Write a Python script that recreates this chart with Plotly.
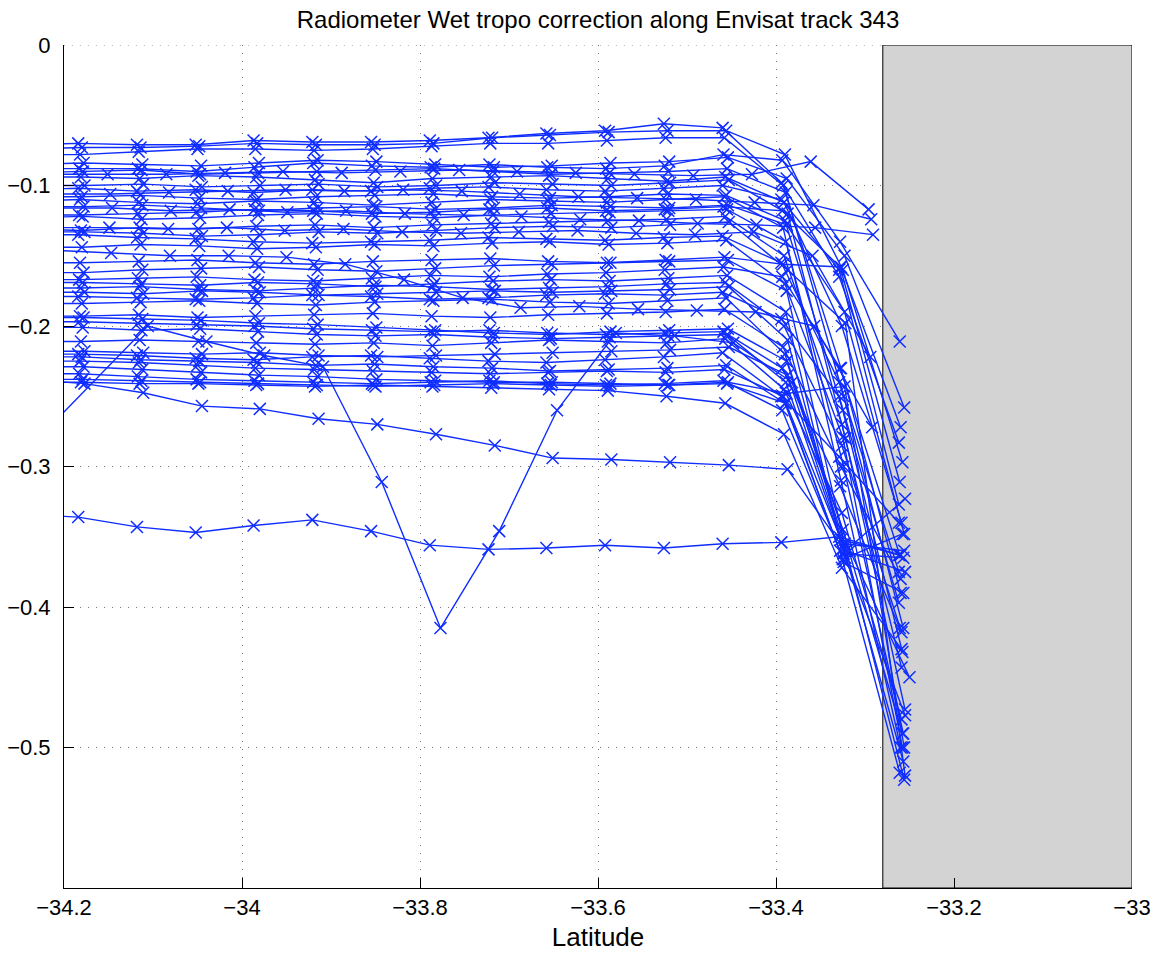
import plotly.graph_objects as go

# Along-track latitudes (regular sampling, first point lies just outside the plotted range)
lat_base = [-34.250, -34.184, -34.118, -34.052, -33.987, -33.921, -33.855, -33.789,
            -33.723, -33.658, -33.592, -33.526, -33.460, -33.394, -33.329, -33.262]
# Passes sampled half a step later
lat_half = [-34.217, -34.151, -34.085, -34.019, -33.954, -33.888, -33.822, -33.756,
            -33.691, -33.625, -33.559, -33.493, -33.427, -33.361, -33.296]

# Wet tropo correction (m) per pass, on lat_base
t01 = [-0.071, -0.070, -0.071, -0.071, -0.068, -0.069, -0.069, -0.068, -0.066, -0.063, -0.061, -0.056, -0.059, -0.098, -0.165, -0.283]
t02 = [-0.074, -0.073, -0.073, -0.072, -0.070, -0.071, -0.071, -0.070, -0.066, -0.064, -0.062, -0.061, -0.061, -0.078, -0.160, -0.297]
t03 = [-0.078, -0.078, -0.076, -0.074, -0.074, -0.075, -0.074, -0.072, -0.070, -0.070, -0.068, -0.066, -0.066, -0.100, -0.230, -0.390]
t04 = [-0.085, -0.084, -0.085, -0.086, -0.084, -0.082, -0.083, -0.085, -0.087, -0.086, -0.084, -0.083, -0.080, -0.095, -0.150, -0.258]
t05 = [-0.088, -0.088, -0.088, -0.090, -0.087, -0.084, -0.086, -0.087, -0.085, -0.087, -0.088, -0.086, -0.078, -0.082, -0.140, -0.211]
t06 = [-0.091, -0.090, -0.089, -0.092, -0.091, -0.090, -0.089, -0.088, -0.090, -0.092, -0.091, -0.090, -0.088, -0.105, -0.250, -0.415]
t07 = [-0.094, -0.094, -0.095, -0.093, -0.094, -0.096, -0.098, -0.095, -0.094, -0.093, -0.095, -0.097, -0.094, -0.112, -0.200, -0.340]
t08 = [-0.100, -0.100, -0.099, -0.101, -0.100, -0.099, -0.101, -0.100, -0.098, -0.099, -0.100, -0.098, -0.096, -0.120, -0.280, -0.473]
t09 = [-0.103, -0.102, -0.104, -0.103, -0.105, -0.103, -0.104, -0.102, -0.101, -0.103, -0.104, -0.102, -0.100, -0.110, -0.160, -0.327]
t10 = [-0.108, -0.108, -0.107, -0.109, -0.110, -0.108, -0.107, -0.106, -0.108, -0.109, -0.108, -0.106, -0.107, -0.125, -0.260, -0.432]
t11 = [-0.111, -0.110, -0.112, -0.113, -0.111, -0.112, -0.114, -0.112, -0.110, -0.111, -0.112, -0.110, -0.108, -0.130, -0.310, -0.500]
t12 = [-0.115, -0.115, -0.114, -0.116, -0.118, -0.116, -0.115, -0.117, -0.116, -0.114, -0.115, -0.116, -0.114, -0.128, -0.190, -0.348]
t13 = [-0.121, -0.121, -0.120, -0.119, -0.117, -0.118, -0.120, -0.119, -0.117, -0.116, -0.118, -0.117, -0.115, -0.118, -0.158, -0.311]
t14 = [-0.123, -0.122, -0.124, -0.123, -0.121, -0.120, -0.122, -0.123, -0.121, -0.120, -0.119, -0.118, -0.117, -0.140, -0.300, -0.490]
t15 = [-0.131, -0.132, -0.130, -0.131, -0.129, -0.128, -0.130, -0.128, -0.127, -0.126, -0.125, -0.124, -0.122, -0.150, -0.270, -0.443]
t16 = [-0.133, -0.133, -0.134, -0.136, -0.135, -0.133, -0.134, -0.132, -0.130, -0.129, -0.130, -0.128, -0.126, -0.160, -0.198, -0.520]
t17 = [-0.135, -0.135, -0.137, -0.138, -0.140, -0.141, -0.140, -0.139, -0.137, -0.138, -0.139, -0.137, -0.136, -0.155, -0.240, -0.375]
t18 = [-0.144, -0.144, -0.142, -0.143, -0.145, -0.144, -0.142, -0.143, -0.141, -0.140, -0.142, -0.141, -0.139, -0.170, -0.279, -0.500]
t19 = [-0.155, -0.155, -0.154, -0.153, -0.155, -0.156, -0.154, -0.153, -0.152, -0.154, -0.155, -0.153, -0.151, -0.156, -0.158, -0.272]
t20 = [-0.162, -0.162, -0.160, -0.159, -0.158, -0.160, -0.161, -0.159, -0.157, -0.156, -0.155, -0.154, -0.153, -0.175, -0.355, -0.523]
t21 = [-0.167, -0.167, -0.166, -0.165, -0.167, -0.168, -0.166, -0.164, -0.165, -0.163, -0.162, -0.160, -0.158, -0.165, -0.230, -0.363]
t22 = [-0.169, -0.169, -0.170, -0.171, -0.169, -0.170, -0.172, -0.170, -0.168, -0.167, -0.168, -0.166, -0.164, -0.190, -0.362, -0.365]
t23 = [-0.173, -0.173, -0.172, -0.174, -0.175, -0.173, -0.171, -0.172, -0.174, -0.173, -0.172, -0.170, -0.169, -0.200, -0.285, -0.418]
t24 = [-0.176, -0.176, -0.177, -0.175, -0.176, -0.178, -0.177, -0.176, -0.175, -0.176, -0.175, -0.174, -0.172, -0.210, -0.365, -0.477]
t25 = [-0.179, -0.179, -0.180, -0.181, -0.180, -0.178, -0.179, -0.181, -0.180, -0.178, -0.177, -0.178, -0.176, -0.195, -0.250, -0.397]
t26 = [-0.184, -0.184, -0.183, -0.182, -0.184, -0.185, -0.183, -0.182, -0.181, -0.183, -0.184, -0.182, -0.180, -0.220, -0.345, -0.490]
t27 = [-0.193, -0.193, -0.192, -0.194, -0.193, -0.192, -0.191, -0.193, -0.194, -0.192, -0.191, -0.190, -0.188, -0.215, -0.300, -0.380]
t28 = [-0.194, -0.194, -0.195, -0.196, -0.198, -0.199, -0.201, -0.203, -0.205, -0.206, -0.204, -0.203, -0.202, -0.225, -0.355, -0.360]
t29 = [-0.197, -0.197, -0.198, -0.199, -0.200, -0.202, -0.203, -0.204, -0.203, -0.205, -0.206, -0.205, -0.204, -0.230, -0.314, -0.415]
t30 = [-0.201, -0.201, -0.203, -0.202, -0.204, -0.206, -0.207, -0.206, -0.208, -0.209, -0.208, -0.207, -0.206, -0.240, -0.358, -0.510]
t31 = [-0.211, -0.211, -0.210, -0.211, -0.212, -0.213, -0.212, -0.214, -0.212, -0.210, -0.211, -0.212, -0.209, -0.245, -0.333, -0.480]
t32 = [-0.218, -0.218, -0.219, -0.220, -0.219, -0.221, -0.222, -0.221, -0.220, -0.219, -0.218, -0.217, -0.215, -0.235, -0.360, -0.323]
t33 = [-0.220, -0.220, -0.221, -0.223, -0.224, -0.222, -0.221, -0.223, -0.225, -0.226, -0.224, -0.222, -0.219, -0.250, -0.293, -0.340]
t34 = [-0.222, -0.222, -0.224, -0.225, -0.226, -0.228, -0.227, -0.229, -0.230, -0.232, -0.231, -0.230, -0.228, -0.255, -0.366, -0.348]
t35 = [-0.225, -0.225, -0.226, -0.228, -0.230, -0.231, -0.232, -0.233, -0.234, -0.233, -0.232, -0.233, -0.231, -0.250, -0.352, -0.363]
t36 = [-0.229, -0.229, -0.231, -0.233, -0.235, -0.236, -0.238, -0.239, -0.240, -0.240, -0.241, -0.242, -0.240, -0.248, -0.243, -0.500]
t37 = [-0.234, -0.234, -0.236, -0.238, -0.239, -0.240, -0.241, -0.240, -0.239, -0.241, -0.242, -0.241, -0.239, -0.260, -0.360, -0.518]
t38 = [-0.238, -0.238, -0.239, -0.240, -0.241, -0.242, -0.243, -0.242, -0.241, -0.242, -0.243, -0.242, -0.241, -0.255, -0.368, -0.390]
t39 = [-0.240, -0.240, -0.241, -0.241, -0.242, -0.243, -0.242, -0.243, -0.244, -0.245, -0.246, -0.250, -0.255, -0.277, -0.372, -0.430]
t40 = [-0.238, -0.241, -0.2475, -0.257, -0.259, -0.266, -0.270, -0.277, -0.285, -0.294, -0.295, -0.297, -0.299, -0.302, -0.360, -0.375]
t41 = [-0.334, -0.336, -0.343, -0.347, -0.342, -0.338, -0.346, -0.356, -0.359, -0.358, -0.356, -0.358, -0.355, -0.354, -0.350, -0.363]
t42 = [-0.286, None, -0.200, -0.211, -0.221, -0.229, -0.311, -0.415, -0.346, -0.260, -0.205, -0.207, -0.212, -0.240, -0.360, -0.450]

# Passes on lat_half (end before the coast)
h01 = [-0.092, -0.092, -0.092, -0.091, -0.090, -0.091, -0.090, -0.089, -0.090, -0.091, -0.092, -0.093, -0.092, -0.083, -0.117]
h02 = [-0.106, -0.106, -0.105, -0.104, -0.103, -0.104, -0.103, -0.104, -0.106, -0.108, -0.109, -0.110, -0.112, -0.114, -0.124]
h03 = [-0.116, -0.116, -0.118, -0.117, -0.119, -0.118, -0.120, -0.121, -0.122, -0.124, -0.125, -0.127, -0.128, -0.130, -0.135]
h04 = [-0.130, -0.130, -0.131, -0.130, -0.132, -0.131, -0.133, -0.134, -0.133, -0.132, -0.134, -0.135, -0.133, -0.150, -0.222]
h05 = [-0.146, -0.148, -0.150, -0.150, -0.151, -0.156, -0.167, -0.180, -0.187, -0.186, -0.188, -0.189, -0.190, -0.200, -0.272]

base_tracks = [t01, t02, t03, t04, t05, t06, t07, t08, t09, t10, t11, t12, t13, t14,
               t15, t16, t17, t18, t19, t20, t21, t22, t23, t24, t25, t26, t27, t28,
               t29, t30, t31, t32, t33, t34, t35, t36, t37, t38, t39, t40, t41, t42]
base_offsets = [0.000, 0.004, 0.002, 0.006, 0.001, 0.005, 0.003, 0.007, 0.000, 0.004,
                0.002, 0.006, 0.001, 0.005, 0.003, 0.007, 0.000, 0.004, 0.002, 0.006,
                0.001, 0.005, 0.003, 0.007, 0.000, 0.004, 0.002, 0.006, 0.001, 0.005,
                0.003, 0.007, 0.000, 0.004, 0.002, 0.006, 0.001, 0.005, 0.003, 0.007,
                0.000, 0.012]
half_tracks = [h01, h02, h03, h04, h05]
half_offsets = [0.000, 0.003, 0.005, 0.002, 0.004]

x_ticks = [-34.2, -34.0, -33.8, -33.6, -33.4, -33.2, -33.0]
x_ticktext = ["\u221234.2", "\u221234", "\u221233.8", "\u221233.6", "\u221233.4", "\u221233.2", "\u221233"]
y_ticks = [0, -0.1, -0.2, -0.3, -0.4, -0.5]
y_ticktext = ["0", "\u22120.1", "\u22120.2", "\u22120.3", "\u22120.4", "\u22120.5"]
land_lat = [-33.28, -33.0]

BLUE = "rgb(15,45,255)"
GRID = "rgb(120,120,120)"
DOTS = "1px,7px"

fig = go.Figure()


def add_track(lats, vals, off):
    xs, ys = [], []
    for la, v in zip(lats, vals):
        if v is not None:
            xs.append(round(la + off, 4))
            ys.append(v)
    fig.add_trace(go.Scatter(
        x=xs, y=ys, mode="lines+markers",
        line=dict(color=BLUE, width=1.4),
        marker=dict(symbol="x-thin", size=12, color=BLUE, line=dict(color=BLUE, width=1.5)),
        showlegend=False, hoverinfo="x+y",
    ))


for vals, off in zip(base_tracks, base_offsets):
    add_track(lat_base, vals, off)
for vals, off in zip(half_tracks, half_offsets):
    add_track(lat_half, vals, off)

# dotted top border (grid line at y = 0)
fig.add_shape(type="line", xref="x", yref="y", x0=-34.2, x1=land_lat[0], y0=0, y1=0,
              line=dict(color=GRID, width=1, dash=DOTS), layer="below")
# land mask
fig.add_shape(type="rect", xref="x", yref="y", x0=land_lat[0], x1=land_lat[1], y0=-0.6, y1=0,
              fillcolor="rgb(211,211,211)", line=dict(color="black", width=1), layer="between")

FAM = "Liberation Sans, Arial, Helvetica, sans-serif"
font = dict(family=FAM, size=22, color="black")

fig.update_layout(
    width=1157, height=953,
    margin=dict(l=64, r=25, t=45, b=65, autoexpand=False),
    paper_bgcolor="white", plot_bgcolor="white",
    font=font,
    title=dict(text="Radiometer Wet tropo correction along Envisat track 343",
               x=598 / 1157, xanchor="center", xref="container",
               y=1 - 20 / 953, yanchor="middle", yref="container",
               font=dict(family=FAM, size=24, color="black")),
)

fig.update_xaxes(
    range=[-34.2, -33.0], tickvals=x_ticks, ticktext=x_ticktext,
    ticks="inside", ticklen=10, tickcolor="black", tickwidth=1,
    showline=True, linecolor="black", linewidth=1, mirror=False,
    showgrid=True, gridcolor=GRID, gridwidth=1, griddash=DOTS,
    zeroline=False, title=dict(text="Latitude", standoff=8),
    tickfont=font, automargin=False,
)
fig.update_yaxes(
    range=[-0.6, 0.0], tickvals=y_ticks, ticktext=y_ticktext,
    ticks="inside", ticklen=10, tickcolor="black", tickwidth=1,
    showline=True, linecolor="black", linewidth=1, mirror=False,
    showgrid=True, gridcolor=GRID, gridwidth=1, griddash=DOTS,
    zeroline=False, tickfont=font, ticklabelstandoff=8, automargin=False,
)

fig.write_html("out.html", config={"displayModeBar": False},
               post_script="document.body.style.margin='0';")
